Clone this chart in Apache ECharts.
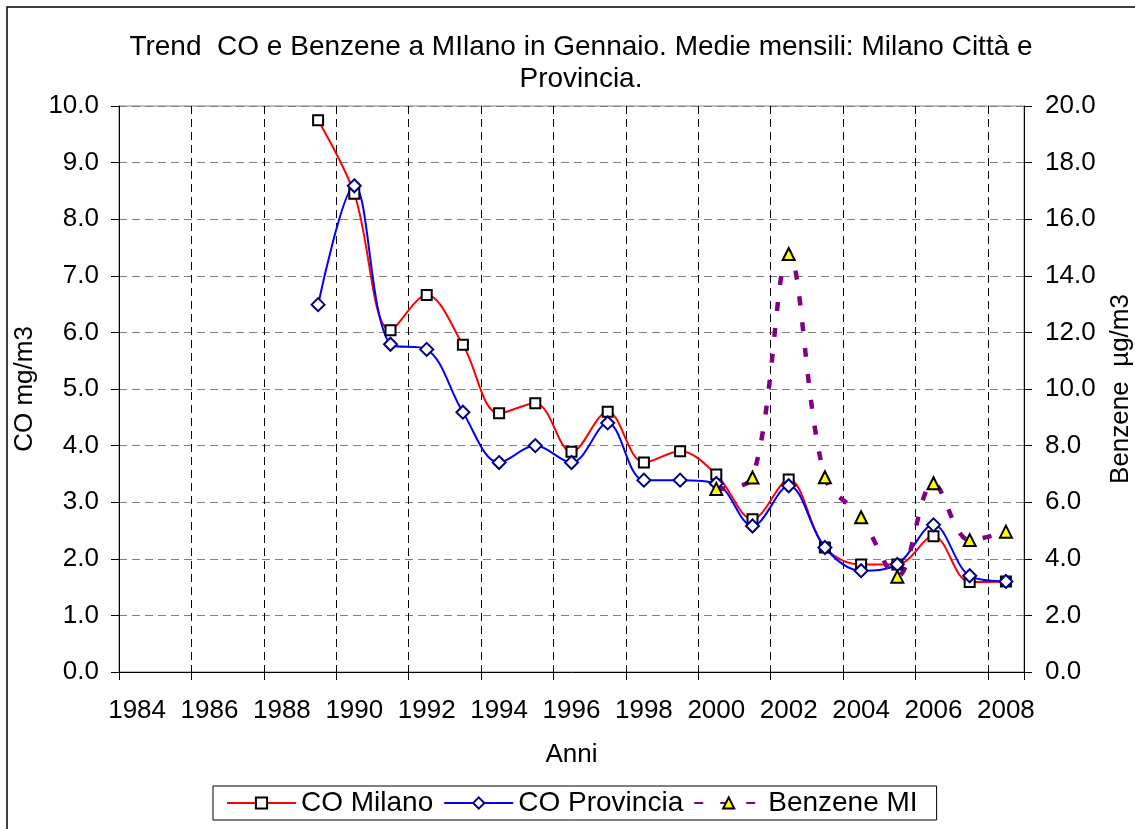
<!DOCTYPE html>
<html>
<head>
<meta charset="utf-8">
<script src="https://cdn.jsdelivr.net/npm/echarts@6/dist/echarts.min.js"></script>
<style>
html,body{margin:0;padding:0;background:#fff;}
#chart{width:1135px;height:829px;}
</style>
</head>
<body>
<div id="chart"></div>
<script>
const years = ['1984','1985','1986','1987','1988','1989','1990','1991','1992','1993','1994','1995','1996','1997','1998','1999','2000','2001','2002','2003','2004','2005','2006','2007','2008'];
const coMilano = [null,null,null,null,null,9.75,8.45,6.04,6.66,5.78,4.57,4.75,3.89,4.60,3.70,3.90,3.49,2.70,3.40,2.20,1.90,1.90,2.40,1.59,1.60];
const coProvincia = [null,null,null,null,null,6.49,8.59,5.79,5.70,4.59,3.70,4.00,3.70,4.40,3.39,3.39,3.33,2.58,3.29,2.20,1.79,1.90,2.60,1.70,1.60];
const benzeneMI = [null,null,null,null,null,null,null,null,null,null,null,null,null,null,null,null,6.47,6.87,14.77,6.88,5.47,3.37,6.67,4.66,4.96];
const leftTicks = {min:0, max:10, interval:1};
const rightTicks = {min:0, max:20, interval:2};

const FONT = '"Liberation Sans", Arial, sans-serif';
const chart = echarts.init(document.getElementById('chart'));
const txt = {fontFamily: FONT, fontSize: 26, color: '#000'};
const txtBig = {fontFamily: FONT, fontSize: 28, color: '#000'};

chart.setOption({
  animation: false,
  backgroundColor: '#fff',
  graphic: [
    {type:'rect', shape:{x:7,y:7,width:1200,height:900}, style:{fill:'none', stroke:'#000', lineWidth:1.5}, z:-1},
    {type:'text', x:581, y:31, style:{text:'Trend  CO e Benzene a MIlano in Gennaio. Medie mensili: Milano Città e\nProvincia.', align:'center', verticalAlign:'top', font:'28px ' + FONT, fill:'#000', lineHeight:32}}
  ],
  grid: {left:119, right:111, top:106, bottom:157, show:true, borderColor:'#808080', borderWidth:1, containLabel:false, outerBoundsMode:'none'},
  legend: {
    left:213, top:786, orient:'horizontal',
    itemWidth:69, itemHeight:14, itemGap:10,
    padding:[3,19,3,13],
    borderColor:'#000', borderWidth:1, backgroundColor:'#fff',
    textStyle: txtBig,
    data:['CO Milano','CO Provincia','Benzene MI']
  },
  xAxis: {
    type:'category', data: years, boundaryGap:true,
    name:'Anni', nameLocation:'middle', nameGap:70, nameTextStyle: txt,
    axisLine:{show:true, lineStyle:{color:'#000', width:1}},
    axisTick:{show:true, interval:1, length:8, lineStyle:{color:'#000'}},
    axisLabel:{interval:1, margin:26, ...txt},
    splitLine:{show:true, interval:1, lineStyle:{color:'#000', type:[8,5], width:1}}
  },
  yAxis: [
    {
      type:'value', position:'left', ...leftTicks,
      name:'CO mg/m3', nameLocation:'middle', nameRotate:90, nameGap:73, nameTextStyle: txt,
      axisLine:{show:true, lineStyle:{color:'#000'}},
      axisTick:{show:true, length:8, lineStyle:{color:'#000'}},
      axisLabel:{margin:20, formatter:v=>v.toFixed(1), ...txt},
      splitLine:{show:true, lineStyle:{color:'#808080', type:[8,5], width:1}}
    },
    {
      type:'value', position:'right', ...rightTicks,
      name:'Benzene  µg/m3', nameLocation:'middle', nameRotate:90, nameGap:84, nameTextStyle: txt,
      axisLine:{show:true, lineStyle:{color:'#000'}},
      axisTick:{show:true, length:8, lineStyle:{color:'#000'}},
      axisLabel:{margin:21, formatter:v=>v.toFixed(1), ...txt},
      splitLine:{show:false}
    }
  ],
  series: [
    {
      name:'CO Milano', type:'line', yAxisIndex:0, data: coMilano, smooth:0.35,
      symbol:'rect', symbolSize:10, showAllSymbol:true,
      lineStyle:{color:'#ff0000', width:2},
      itemStyle:{color:'#fff', borderColor:'#000', borderWidth:2}
    },
    {
      name:'CO Provincia', type:'line', yAxisIndex:0, data: coProvincia, smooth:0.35,
      symbol:'diamond', symbolSize:13, showAllSymbol:true,
      lineStyle:{color:'#0000ff', width:2},
      itemStyle:{color:'#fff', borderColor:'#000080', borderWidth:2}
    },
    {
      name:'Benzene MI', type:'line', yAxisIndex:1, data: benzeneMI, smooth:0.35,
      symbol:'triangle', symbolSize:12, showAllSymbol:true,
      lineStyle:{color:'#800080', width:4.5, type:[9,17]},
      itemStyle:{color:'#ffff00', borderColor:'#000', borderWidth:2}
    }
  ]
});
</script>
</body>
</html>
